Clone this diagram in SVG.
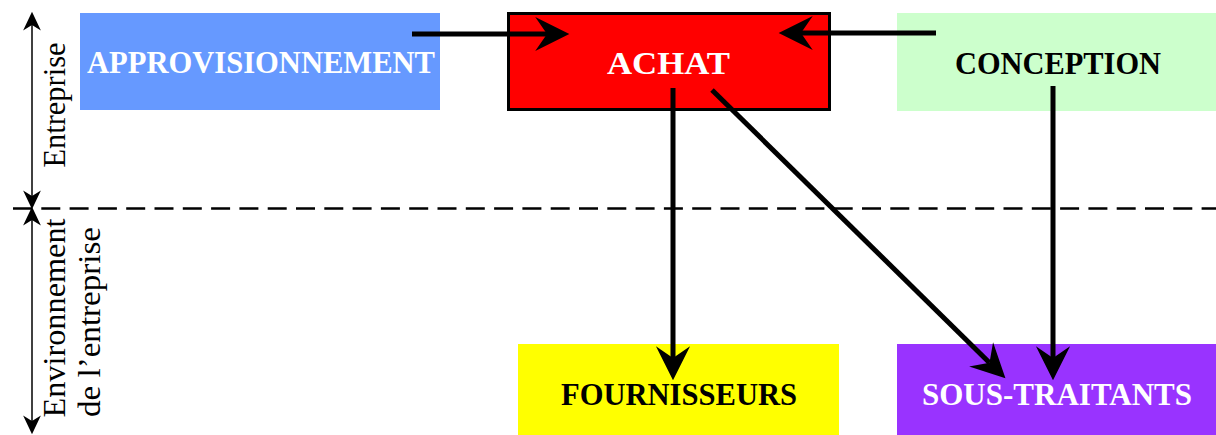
<svg xmlns="http://www.w3.org/2000/svg" width="1216" height="435" viewBox="0 0 1216 435">
<defs>
<style>
.lbl{font-family:"Liberation Serif","Times New Roman",serif;font-weight:bold;font-size:32px;text-anchor:middle}
.side{font-family:"Liberation Serif","Times New Roman",serif;font-size:31px;text-anchor:middle;fill:#000}
.conn{stroke:#000;stroke-width:5;fill:none;marker-end:url(#head)}
.dim{stroke:#000;stroke-width:1.5;fill:none;marker-start:url(#thin);marker-end:url(#thin)}
</style>
<marker id="head" markerUnits="userSpaceOnUse" markerWidth="40" markerHeight="40" viewBox="-12 -16 34 32" refX="0" refY="0" orient="auto">
<path d="M19,0 L-10,-14.5 L0,0 L-10,14.5 Z" fill="#000"/>
</marker>
<marker id="thin" markerUnits="userSpaceOnUse" markerWidth="24" markerHeight="20" viewBox="-6 -9 20 18" refX="0" refY="0" orient="auto-start-reverse">
<path d="M12,0 L-5,-8 L0,0 L-5,8 Z" fill="#000"/>
</marker>
</defs>
<rect width="1216" height="435" fill="#fff"/>
<g id="separator">
<line x1="13" y1="208.5" x2="1216" y2="208.5" stroke="#000" stroke-width="2.5" stroke-dasharray="19 9.3"/>
<line class="dim" x1="32" y1="25" x2="32" y2="196"/>
<line class="dim" x1="32" y1="220" x2="32" y2="421"/>
<text class="side" transform="translate(65,105) rotate(-90)" textLength="125" lengthAdjust="spacingAndGlyphs">Entreprise</text>
<text class="side" transform="translate(65,318) rotate(-90)" textLength="199" lengthAdjust="spacingAndGlyphs">Environnement</text>
<text class="side" transform="translate(100,322) rotate(-90)" textLength="190" lengthAdjust="spacingAndGlyphs">de l’entreprise</text>
</g>
<g id="approvisionnement">
<rect x="80" y="13" width="360" height="97" fill="#6699FF"/>
<text class="lbl" x="261" y="73" fill="#fff" textLength="348" lengthAdjust="spacingAndGlyphs">APPROVISIONNEMENT</text>
</g>
<g id="achat">
<rect x="508.5" y="13.5" width="321" height="96" fill="#FF0000" stroke="#000" stroke-width="3"/>
<text class="lbl" x="668.5" y="74" fill="#fff" font-size="34" textLength="123" lengthAdjust="spacingAndGlyphs">ACHAT</text>
</g>
<g id="conception">
<rect x="897" y="13" width="319" height="98" fill="#CCFFCC"/>
<text class="lbl" x="1058" y="74" fill="#000" textLength="206" lengthAdjust="spacingAndGlyphs">CONCEPTION</text>
</g>
<g id="fournisseurs">
<rect x="518" y="344" width="321" height="91" fill="#FFFF00"/>
<text class="lbl" x="679" y="405" fill="#000" textLength="236" lengthAdjust="spacingAndGlyphs">FOURNISSEURS</text>
</g>
<g id="sous-traitants">
<rect x="897" y="344" width="319" height="91" fill="#9933FF"/>
<text class="lbl" x="1057" y="405" fill="#fff" textLength="270" lengthAdjust="spacingAndGlyphs">SOUS-TRAITANTS</text>
</g>
<g id="connectors">
<line class="conn" x1="412" y1="34" x2="547" y2="34"/>
<line class="conn" x1="936" y1="33" x2="801" y2="33"/>
<line class="conn" x1="673" y1="88" x2="673" y2="358"/>
<line class="conn" x1="712" y1="90" x2="989.5" y2="362.7"/>
<line class="conn" x1="1053" y1="86" x2="1053" y2="358"/>
</g>
</svg>
